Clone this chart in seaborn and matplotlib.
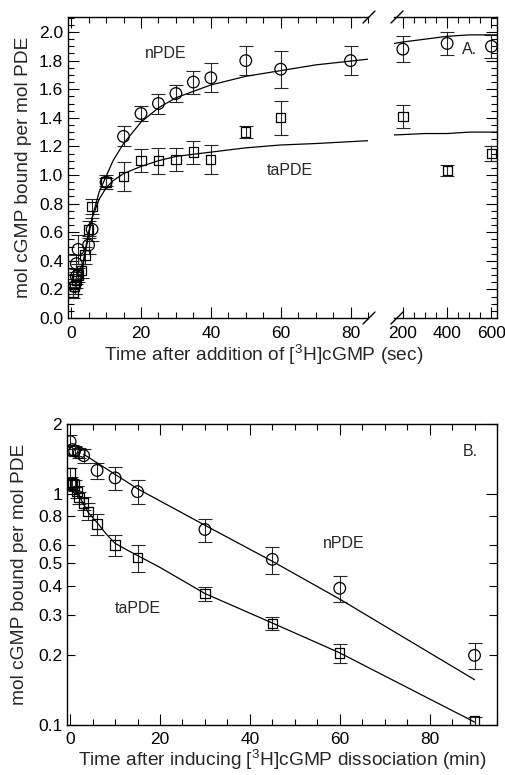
import pandas as pd
import seaborn as sns
import matplotlib.pyplot as plt
from matplotlib.lines import Line2D
from matplotlib.ticker import MultipleLocator, FixedLocator, FixedFormatter

# ---------------------
# 1. DATA
# ---------------------
# Panel A - association, time in sec
a_n_t = [1, 1.5, 1.5, 2, 5, 6, 10, 15, 20, 25, 30, 35, 40, 50, 60, 80, 200, 400, 600]
a_n_y = [0.22, 0.29, 0.38, 0.48, 0.51, 0.62, 0.95, 1.27, 1.43, 1.50, 1.57, 1.65, 1.68, 1.80, 1.74, 1.80, 1.88, 1.92, 1.90]
a_n_e = [0.05, 0.05, 0.06, 0.10, 0.06, 0.08, 0.05, 0.07, 0.05, 0.07, 0.06, 0.08, 0.10, 0.10, 0.13, 0.10, 0.09, 0.08, 0.08]

a_t_t = [0.5, 1, 1.5, 2, 3, 4, 5, 6, 10, 15, 20, 25, 30, 35, 40, 50, 60, 200, 400, 600]
a_t_y = [0.18, 0.22, 0.26, 0.30, 0.33, 0.44, 0.62, 0.78, 0.95, 0.99, 1.10, 1.10, 1.11, 1.16, 1.11, 1.30, 1.40, 1.41, 1.03, 1.15]
a_t_e = [0.04, 0.05, 0.05, 0.05, 0.05, 0.06, 0.06, 0.05, 0.03, 0.10, 0.08, 0.09, 0.08, 0.08, 0.10, 0.04, 0.12, 0.08, 0.04, 0.05]

# fitted curves, panel A
fit_n_t = [3, 4, 5, 6, 8, 10, 12, 15, 20, 25, 30, 40, 50, 60, 70, 85, 160, 200, 300, 400, 500, 625]
fit_n_y = [0.30, 0.45, 0.58, 0.70, 0.88, 0.99, 1.10, 1.22, 1.37, 1.47, 1.54, 1.63, 1.69, 1.73, 1.77, 1.81, 1.92, 1.93, 1.95, 1.97, 1.98, 1.98]
fit_t_t = [2.5, 3, 4, 5, 6, 8, 10, 12, 15, 20, 25, 30, 40, 50, 60, 70, 85, 160, 300, 400, 500, 625]
fit_t_y = [0.22, 0.32, 0.47, 0.60, 0.70, 0.83, 0.91, 0.96, 1.01, 1.06, 1.10, 1.13, 1.16, 1.19, 1.21, 1.22, 1.24, 1.28, 1.29, 1.29, 1.30, 1.30]

# Panel B - dissociation, time in min
b_n_t = [0, 0.5, 1, 2, 3, 6, 10, 15, 30, 45, 60, 90]
b_n_y = [1.68, 1.55, 1.53, 1.50, 1.46, 1.26, 1.17, 1.02, 0.70, 0.52, 0.39, 0.20]
b_n_e = [0.12, 0.08, 0.08, 0.08, 0.10, 0.10, 0.13, 0.12, 0.08, 0.07, 0.05, 0.026]

b_t_t = [0, 0.25, 0.5, 1, 1.5, 2, 3, 4, 6, 10, 15, 30, 45, 60, 90]
b_t_y = [1.23, 1.12, 1.10, 1.09, 1.02, 0.96, 0.91, 0.84, 0.74, 0.60, 0.53, 0.37, 0.275, 0.205, 0.104]
b_t_e = [0.06, 0.06, 0.06, 0.06, 0.06, 0.06, 0.06, 0.07, 0.08, 0.065, 0.07, 0.025, 0.017, 0.019, 0.004]

fitb_n_t = [3, 15, 30, 45, 60, 90]
fitb_n_y = [1.48, 1.05, 0.73, 0.51, 0.35, 0.157]
fitb_t_t = [1.5, 3, 4, 6, 8, 10, 12, 15, 20, 30, 45, 60, 90]
fitb_t_y = [1.02, 0.90, 0.83, 0.75, 0.67, 0.61, 0.58, 0.54, 0.48, 0.37, 0.276, 0.205, 0.103]

# ---------------------
# 2. STYLE
# ---------------------
sns.set_theme(style="ticks")
plt.rcParams['font.family'] = ['Liberation Sans', 'DejaVu Sans']
plt.rcParams['mathtext.fontset'] = 'custom'
plt.rcParams['mathtext.rm'] = 'Liberation Sans'
TICK = 12.5
NOTE = 11.5
LAB = 13.8

W, H = 506, 775
fig = plt.figure(figsize=(W / 100, H / 100), dpi=100)
fig.patch.set_facecolor('white')


def px(x0, y0, w, h):
    return [x0 / W, 1 - (y0 + h) / H, w / W, h / H]


axA1 = fig.add_axes(px(68, 17, 300, 301))
axA2 = fig.add_axes(px(394, 17, 103, 301))
axB = fig.add_axes(px(67, 424, 430, 301))


def frame(ax, xpad=6):
    ax.set_facecolor('white')
    for s in ax.spines.values():
        s.set_color('black')
        s.set_linewidth(1.0)
    ax.tick_params(which='both', direction='in', colors='black', width=0.8,
                   labelsize=TICK, top=True, right=True)
    ax.tick_params(which='major', length=8)
    ax.tick_params(which='minor', length=4)
    ax.tick_params(axis='x', which='both', pad=xpad)


def draw_points(ax, t, y, e, marker, s):
    df = pd.DataFrame({'t': t, 'y': y, 'e': e})
    ax.errorbar(df['t'], df['y'], yerr=df['e'], fmt='none', ecolor='0.15',
                elinewidth=0.8, capsize=5, capthick=0.8, zorder=2)
    sns.scatterplot(data=df, x='t', y='y', marker=marker, s=s, facecolor='none',
                    edgecolor='black', linewidth=0.9, ax=ax, zorder=3, legend=False)


def draw_fit(ax, t, y):
    sns.lineplot(x=t, y=y, color='black', linewidth=0.9, ax=ax, sort=False,
                 estimator=None, zorder=4)


# ---------------------
# 3. PANEL A (broken x axis)
# ---------------------
for ax in (axA1, axA2):
    frame(ax)
    draw_points(ax, a_n_t, a_n_y, a_n_e, 'o', 70)
    draw_points(ax, a_t_t, a_t_y, a_t_e, 's', 45)
    draw_fit(ax, fit_n_t, fit_n_y)
    draw_fit(ax, fit_t_t, fit_t_y)
    ax.set_ylim(0, 2.105)
    ax.yaxis.set_major_locator(MultipleLocator(0.2))
    ax.yaxis.set_minor_locator(MultipleLocator(0.05))
    ax.set_xlabel('')
    ax.set_ylabel('')

axA1.set_xlim(-0.9, 85)
axA1.xaxis.set_major_locator(MultipleLocator(20))
axA1.xaxis.set_minor_locator(MultipleLocator(5))
axA1.spines['right'].set_visible(False)
axA1.tick_params(which='both', right=False)
axA1.yaxis.set_major_formatter(plt.FuncFormatter(lambda v, p: f'{v:.1f}'))
axA1.set_ylabel('mol cGMP bound per mol PDE', fontsize=LAB)
axA1.yaxis.set_label_coords(-0.12, 0.5)

axA2.set_xlim(160, 625)
axA2.xaxis.set_major_locator(FixedLocator([200, 400, 600]))
axA2.xaxis.set_minor_locator(MultipleLocator(50))
axA2.spines['left'].set_visible(False)
axA2.tick_params(which='both', left=False, labelleft=False)

axA1.text(21, 1.85, 'nPDE', fontsize=NOTE, ha='left', va='center')
axA1.text(62.5, 1.03, 'taPDE', fontsize=NOTE, ha='center', va='center')
axA2.text(503, 1.88, 'A.', fontsize=NOTE, ha='center', va='center')

fig.text(264 / W, 1 - 355 / H, 'Time after addition of [$^{3}$H]cGMP (sec)',
         fontsize=LAB, ha='center', va='center')

# break marks
for xc in (369, 397):
    for yc in (17, 318):
        fig.add_artist(Line2D([(xc - 6) / W, (xc + 6) / W],
                              [1 - (yc + 6) / H, 1 - (yc - 6) / H],
                              transform=fig.transFigure, color='black', linewidth=1.0))

# ---------------------
# 4. PANEL B (log y)
# ---------------------
frame(axB, xpad=5)
draw_points(axB, b_n_t, b_n_y, b_n_e, 'o', 70)
draw_points(axB, b_t_t, b_t_y, b_t_e, 's', 45)
draw_fit(axB, fitb_n_t, fitb_n_y)
draw_fit(axB, fitb_t_t, fitb_t_y)
axB.set_yscale('log')
axB.set_xlim(-0.7, 95)
axB.set_ylim(0.1, 2)
axB.xaxis.set_major_locator(MultipleLocator(20))
axB.xaxis.set_minor_locator(MultipleLocator(5))
major_y = [0.1, 1, 2]
minor_y = [0.2, 0.3, 0.4, 0.5, 0.6, 0.8]
axB.yaxis.set_major_locator(FixedLocator(major_y))
axB.yaxis.set_major_formatter(FixedFormatter(['0.1', '1', '2']))
axB.yaxis.set_minor_locator(FixedLocator(minor_y))
axB.yaxis.set_minor_formatter(FixedFormatter(['0.2', '0.3', '0.4', '0.5', '0.6', '0.8']))
axB.tick_params(axis='y', which='minor', labelsize=TICK, length=6)
axB.set_xlabel('Time after inducing [$^{3}$H]cGMP dissociation (min)', fontsize=LAB, labelpad=0)
axB.set_ylabel('mol cGMP bound per mol PDE', fontsize=LAB)
axB.yaxis.set_label_coords(-0.09, 0.5)

axB.text(89, 1.52, 'B.', fontsize=NOTE, ha='center', va='center')
axB.text(61, 0.61, 'nPDE', fontsize=NOTE, ha='center', va='center')
axB.text(15, 0.32, 'taPDE', fontsize=NOTE, ha='center', va='center')

plt.savefig('out.png', dpi=100, facecolor='white')
